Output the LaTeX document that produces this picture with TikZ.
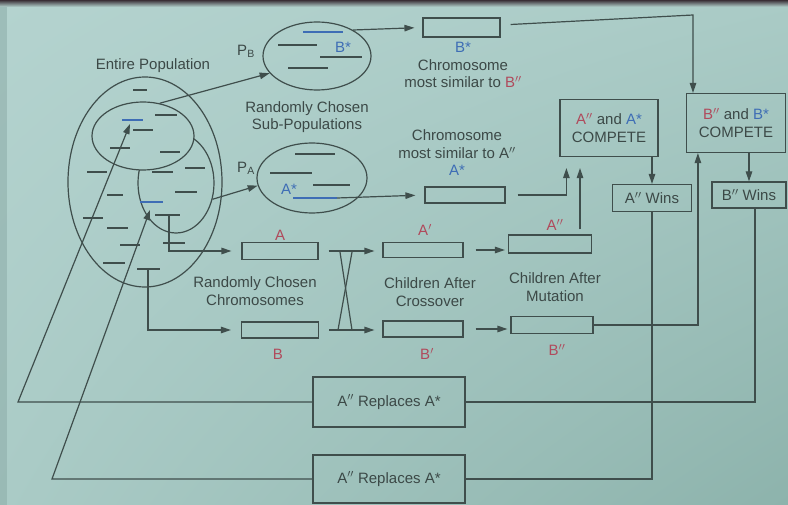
\documentclass[tikz,border=0pt]{standalone}
\usepackage{fontspec}
\setmainfont{Liberation Sans}
\usetikzlibrary{arrows.meta,calc,shapes.geometric,shadings}
\definecolor{bg}{HTML}{AACBC6}
\definecolor{bgl}{HTML}{B4D3CF}
\definecolor{bgd}{HTML}{8DB3AC}
\definecolor{edge}{HTML}{8FAFAB}
\definecolor{topband}{HTML}{3A2F36}
\definecolor{ln}{HTML}{3F4E4C}
\definecolor{tx}{HTML}{3C4947}
\definecolor{rd}{HTML}{B04A5C}
\definecolor{bl}{HTML}{3E6DB5}
\begin{document}
\begin{tikzpicture}[x=1pt,y=-1pt, line width=1.2pt, draw=ln,
  every node/.style={font=\fontsize{15}{17.5}\selectfont, text=tx},
  chrom/.style={draw=ln, minimum width=78pt, minimum height=17pt, inner sep=0pt},
  bx/.style={draw=ln, inner sep=0pt, align=center},
  pop/.style={draw=ln, ellipse, inner sep=0pt},
  dsh/.style={line width=1.3pt, draw=ln},
  bdsh/.style={line width=1.3pt, draw=bl},
  arr/.style={draw=ln, -{Triangle[length=10pt,width=6.5pt]}},
  lbl/.style={align=center, inner sep=0pt}]
\useasboundingbox (0,0) rectangle (788,505);
% background
\shade[upper left=bgl, upper right=bg, lower left=bg, lower right=bgd] (0,0) rectangle (788,505);
\fill[edge, opacity=0.6] (0,0) rectangle (7,505);
\shade[top color=topband, bottom color=bgl] (0,0) rectangle (788,7);

% entire population
\node[lbl] (entire) at (153,66) {Entire Population};
\node[pop, minimum width=154pt, minimum height=210pt] (ent) at (145,182) {};
\begin{scope}[even odd rule]
  \clip (0,0) rectangle (788,505) (143,136) ellipse [x radius=51, y radius=34];
  \node[pop, minimum width=76pt, minimum height=100pt] (subL) at (176,183) {};
\end{scope}
\node[pop, minimum width=102pt, minimum height=68pt] (subU) at (143,136) {};

% chromosomes of the entire population
\foreach \a/\b/\y in {133/147/90, 155/177/115, 133/153/130, 110/130/148, 160/180/152,
  87/107/172, 152/173/172, 185/205/168, 107/123/195, 175/197/192, 83/103/218,
  155/180/215, 107/128/228, 120/140/245, 163/185/243, 103/125/263, 137/160/269}
  \draw[dsh] (\a,\y) -- (\b,\y);
\draw[bdsh] (122,120) -- (143,120);
\draw[bdsh] (140,202) -- (163,202);

% sub-populations
\node[pop, minimum width=108pt, minimum height=68pt] (PB) at (317,56) {};
\node[pop, minimum width=110pt, minimum height=70pt] (PA) at (312,178) {};
\node[lbl] (PBl) at (246,51) {P\textsubscript{B}};
\node[lbl] (PAl) at (246,168) {P\textsubscript{A}};
\draw[bdsh] (303,32) -- (343,32);
\foreach \a/\b/\y in {278/317/45, 320/362/57, 288/328/68} \draw[dsh] (\a,\y) -- (\b,\y);
\node[lbl, text=bl] (Bsl) at (343,47) {B*};
\foreach \a/\b/\y in {295/335/154, 270/312/173, 313/350/185} \draw[dsh] (\a,\y) -- (\b,\y);
\draw[bdsh] (293,198) -- (337,198);
\node[lbl, text=bl] (Asl) at (289,189) {A*};
\node[lbl] (rcsp) at (307,117) {Randomly Chosen\\Sub-Populations};

% chromosome boxes
\node[chrom, minimum width=77pt, minimum height=19pt] (boxBstar) at (461.5,27.5) {};
\node[chrom, minimum width=80pt, minimum height=16pt] (boxAstar) at (465,195) {};
\node[chrom, minimum width=76pt] (boxA) at (280,251) {};
\node[chrom, minimum width=77pt, minimum height=16pt] (boxB) at (280,330) {};
\node[chrom, minimum width=80pt, minimum height=15pt] (boxA1) at (423,250) {};
\node[chrom, minimum width=80pt, minimum height=16pt] (boxB1) at (423,329) {};
\node[chrom, minimum width=83pt, minimum height=18pt] (boxA2) at (550,244) {};
\node[chrom, minimum width=82pt, minimum height=17pt] (boxB2) at (552,325) {};

% labels
\node[lbl] (tBs) at (463,65) {\textcolor{bl}{B*}\\Chromosome\\most similar to \textcolor{rd}{B$''$}};
\node[lbl] (tAs) at (457,153) {Chromosome\\most similar to A$''$\\\textcolor{bl}{A*}};
\node[lbl, text=rd] (lA) at (280,235) {A};
\node[lbl, text=rd] (lB) at (278,354) {B};
\node[lbl, text=rd] (lA1) at (425,230) {A$'$};
\node[lbl, text=rd] (lB1) at (427,354) {B$'$};
\node[lbl, text=rd] (lA2) at (555,225) {A$''$};
\node[lbl, text=rd] (lB2) at (557,350) {B$''$};
\node[lbl] (rcc) at (255,291) {Randomly Chosen\\Chromosomes};
\node[lbl] (cac) at (430,292) {Children After\\Crossover};
\node[lbl] (cam) at (555,287) {Children After\\Mutation};

% compete and wins boxes
\node[bx, minimum width=98pt, minimum height=57pt] (compA) at (609,128) {\textcolor{rd}{A$''$} and \textcolor{bl}{A*}\\COMPETE};
\node[bx, minimum width=99pt, minimum height=59pt] (compB) at (736,123) {\textcolor{rd}{B$''$} and \textcolor{bl}{B*}\\COMPETE};
\node[bx, minimum width=79pt, minimum height=27pt] (winA) at (652,198) {A$''$ Wins};
\node[bx, minimum width=74pt, minimum height=26pt] (winB) at (749,195) {B$''$ Wins};
\node[bx, minimum width=152pt, minimum height=50pt] (rep1) at (389,402) {A$''$ Replaces A*};
\node[bx, minimum width=152pt, minimum height=48pt] (rep2) at (389,479) {A$''$ Replaces A*};

% connectors
\draw[arr] (subU.63) -- (PB.200);
\draw[arr] (subL.-24) -- (PA.188);
\coordinate (bsE) at (353,30);
\draw[arr, shorten >=8pt] (bsE) -- (boxBstar.west);
\coordinate (asE) at (337,198);
\draw[arr, shorten >=9pt] (asE) -- (boxAstar.west);

\coordinate (chrA) at (169,215);
\coordinate (chrB) at (148,269);
\draw[arr, shorten >=10pt] (chrA) |- (boxA.west);
\draw[arr, shorten >=10pt] (chrB) |- (boxB.west);

\draw[arr, shorten <=10pt, shorten >=8pt] (boxA.east) -- (boxA.east -| boxA1.west);
\draw[arr, shorten <=10pt, shorten >=8pt] (boxB.east) -- (boxB.east -| boxB1.west);
\draw (340,252) -- (352,330);
\draw (352,252) -- (338,330);

\draw[arr, shorten <=12pt, shorten >=3pt] (boxA1.east) -- (boxA1.east -| boxA2.west);
\draw[arr, shorten <=12pt, shorten >=3pt] (boxB1.east) -- (boxB1.east -| boxB2.west);

\coordinate (asT) at ([xshift=7pt]compA.south west);
\draw[arr, shorten <=12pt, shorten >=11pt] (boxAstar.east) -| (asT);
\coordinate (a2t) at ([xshift=30pt,yshift=5pt]boxA2.north);
\draw[arr, shorten >=11pt] (a2t) -- (a2t |- compA.south);

\coordinate (bsS) at ([xshift=10pt,yshift=3pt]boxBstar.east);
\coordinate (bsC) at (693,15);
\draw[arr] (bsS) -- (bsC) -- (bsC |- compB.north);
\coordinate (cbs) at ([xshift=12pt]compB.south west);
\draw[arr] (boxB2.east) -| (cbs);

\draw[arr] (winA.north |- compA.south) -- (winA.north);
\draw[arr] (winB.north |- compB.south) -- (winB.north);

\coordinate (wbS) at ([xshift=6pt]winB.south);
\draw (wbS) |- (rep1.east);
\draw (winA.south) |- (rep2.east);

\coordinate (cU) at (130,124);
\coordinate (cL) at (150,210);
\coordinate (r1c) at (18,406);
\coordinate (r2c) at (52,480);
\draw[arr] (rep1.west) -- (rep1.west -| r1c) -- (cU);
\draw[arr] (rep2.west) -- (rep2.west -| r2c) -- (cL);
\end{tikzpicture}
\end{document}
